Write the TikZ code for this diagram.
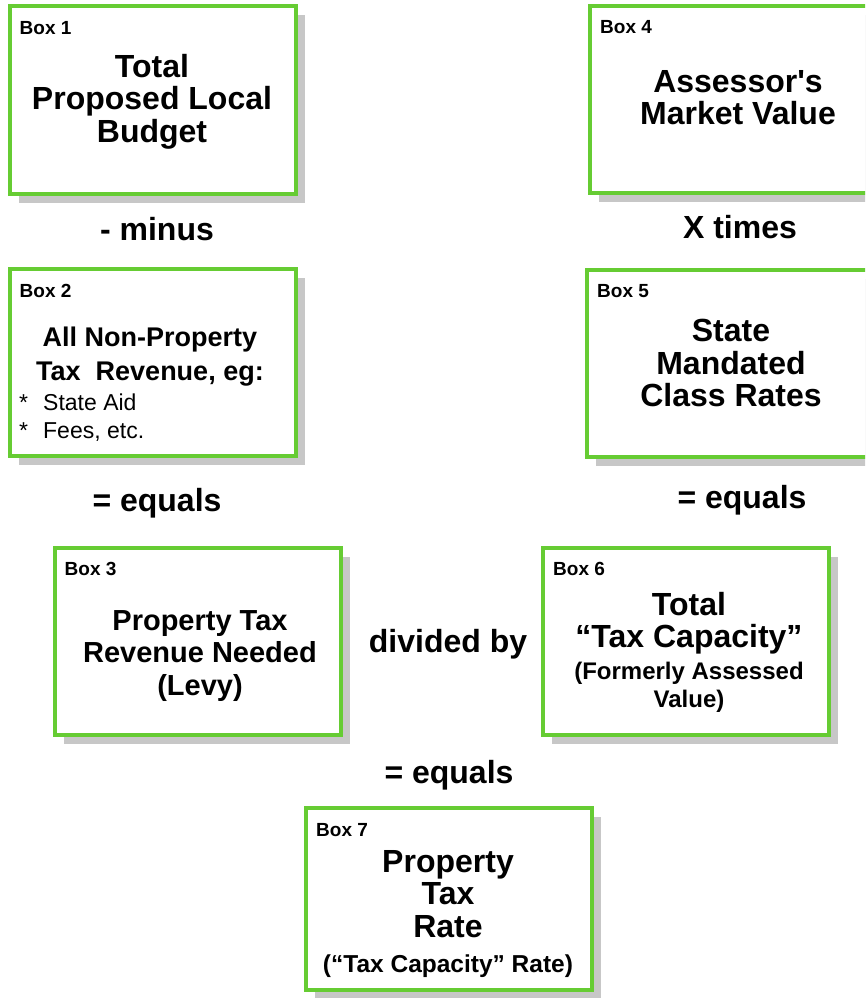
\documentclass[tikz,border=0pt]{standalone}
\usepackage{fontspec}
\setmainfont{Liberation Sans}
\usetikzlibrary{positioning, shadows}
\definecolor{boxgreen}{RGB}{102,204,51}
\tikzstyle{taxBox} = [rectangle, draw=boxgreen, line width=4pt, fill=white, minimum width=286pt, minimum height=187pt, inner sep=0pt, outer sep=0pt, drop shadow={shadow xshift=9pt, shadow yshift=-9pt, fill=black!22, opacity=1}]
\tikzstyle{boxTag} = [anchor=base west, inner sep=0pt, font=\fontsize{19}{22}\selectfont\bfseries]
\tikzstyle{mainText} = [anchor=north, inner sep=0pt, align=center, font=\fontsize{32}{32.5}\selectfont\bfseries]
\tikzstyle{subText} = [anchor=north, inner sep=0pt, align=center, font=\fontsize{24}{28}\selectfont\bfseries]
\tikzstyle{opText} = [anchor=base, inner sep=0pt, font=\fontsize{32}{34}\selectfont\bfseries]

\begin{document}
\begin{tikzpicture}[x=1pt, y=-1pt]
    \useasboundingbox (0,0) rectangle (865,998);
    \clip (0,0) rectangle (865,998);

    % boxes
    \node (box1) [taxBox] at (152.5,100) {};
    \node (box2) [taxBox] at (152.5,362.5) {};
    \node (box3) [taxBox] at (197.5,641) {};
    \node (box4) [taxBox] at (733,99.5) {};
    \node (box5) [taxBox] at (730,363) {};
    \node (box6) [taxBox] at (686,641) {};
    \node (box7) [taxBox, minimum height=182pt] at (449,899) {};

    % box numbers
    \node (tag1) [boxTag] at ([shift={(10,28)}]box1.north west) {Box 1};
    \node (tag2) [boxTag] at ([shift={(10,28)}]box2.north west) {Box 2};
    \node (tag3) [boxTag] at ([shift={(10,28)}]box3.north west) {Box 3};
    \node (tag4) [boxTag] at ([shift={(10,28)}]box4.north west) {Box 4};
    \node (tag5) [boxTag] at ([shift={(10,28)}]box5.north west) {Box 5};
    \node (tag6) [boxTag] at ([shift={(10,28)}]box6.north west) {Box 6};
    \node (tag7) [boxTag] at ([shift={(10,28)}]box7.north west) {Box 7};

    % box texts
    \node (budget) [mainText] at (152,54) {Total\\Proposed Local\\Budget};
    \node (nonprop) [mainText, font=\fontsize{27}{34}\selectfont\bfseries] at (150,327) {All Non-Property\\Tax\ \ Revenue, eg:};
    \node (examples) [anchor=north west, inner sep=0pt, align=left, font=\fontsize{23}{28}\selectfont] at (19,394)
        {\makebox[24pt][l]{*}State Aid\\\makebox[24pt][l]{*}Fees, etc.};
    \node (levy) [mainText, font=\fontsize{29}{32.5}\selectfont\bfseries] at (200,610) {Property Tax\\Revenue Needed\\(Levy)};
    \node (market) [mainText] at (738,70) {Assessor\textquotesingle s\\Market Value};
    \node (classrates) [mainText] at (731,319) {State\\Mandated\\Class Rates};
    \node (capacity) [mainText] at (689,592) {Total\\“Tax Capacity”};
    \node (formerly) [subText] at (689,662) {(Formerly Assessed\\Value)};
    \node (taxrate) [mainText] at (448,850) {Property\\Tax\\Rate};
    \node (rateNote) [opText, font=\fontsize{24.5}{28}\selectfont\bfseries] at (448,972) {(“Tax Capacity” Rate)};

    % operators
    \node (minus) [opText] at (157,240) {- minus};
    \node (times) [opText] at (740,238) {X times};
    \node (equalsL) [opText] at (157,511) {= equals};
    \node (equalsR) [opText] at (742,508) {= equals};
    \node (divided) [opText] at (448,652) {divided by};
    \node (equalsB) [opText] at (449,783) {= equals};
\end{tikzpicture}
\end{document}
